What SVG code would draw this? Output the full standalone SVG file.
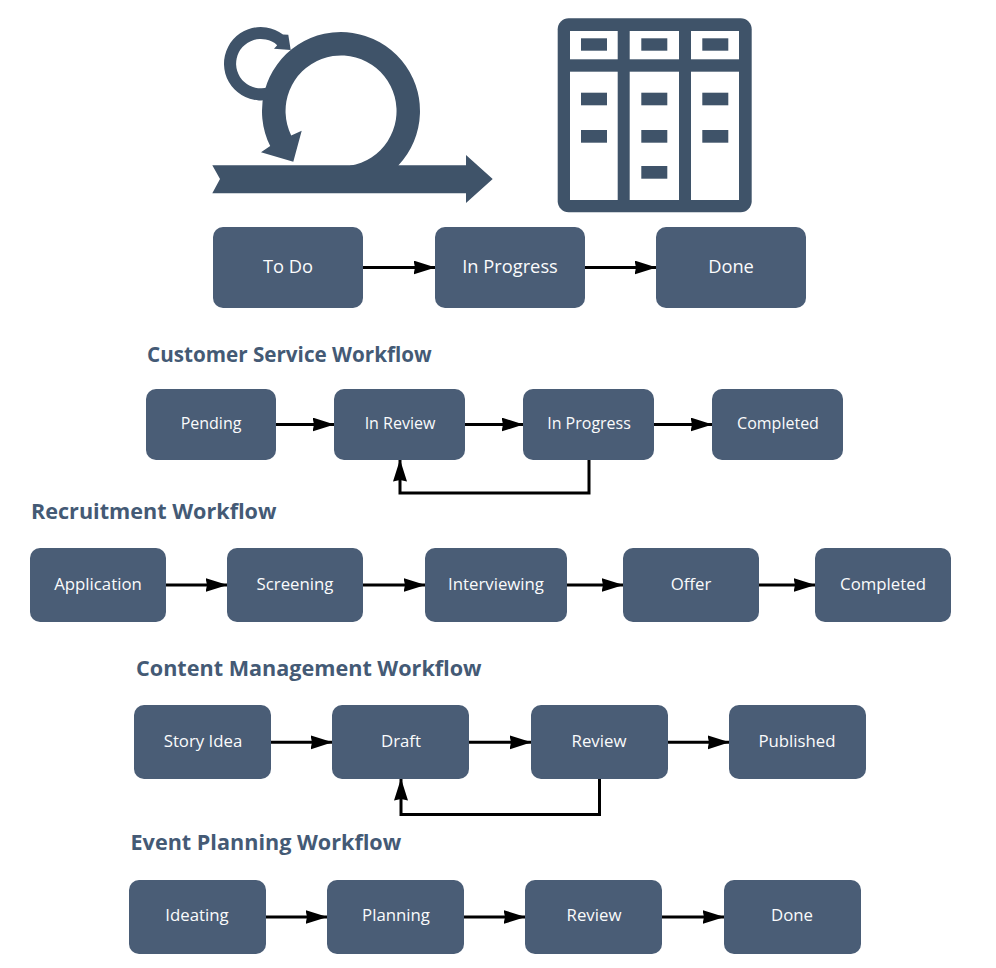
<svg xmlns="http://www.w3.org/2000/svg" width="996" height="968" viewBox="0 0 996 968">
<defs>
<style>
.n{fill:#4a5d76}
.i{fill:#3f5369}
.t{font-family:"Open Sans",sans-serif;fill:#fafbfc;text-anchor:middle;dominant-baseline:central}
.a{font-size:18.300px}.b{font-size:16px}.c{font-size:16.800px}
.h{font-family:"Open Sans",sans-serif;font-weight:700;font-size:21.600px;fill:#445a75}
.e{fill:none;stroke:#000;stroke-width:3;marker-end:url(#m)}
</style>
<marker id="m" markerUnits="userSpaceOnUse" markerWidth="24" markerHeight="16" refX="21.500" refY="7" orient="auto"><path d="M0 0L22 7L0 14L1.500 7Z" fill="#000"/></marker>
</defs>
<rect width="996" height="968" fill="#fff"/>
<g id="scrum-icon" class="i">
<path d="M212.300 165.300H466V155L492.700 179L466 203V193.300H212.300L220 179Z"/>
<path d="M398.300 165.400A79 79 0 1 0 270.200 146.100L261 152.300L293.300 161.700L301.700 130.700L291.200 135.400A55.500 55.500 0 1 1 350 165.770V170H398.300Z"/>
<path d="M268 99.700A36.700 36.700 0 1 1 283 34.600L288.300 34.800L290.700 50L274 48.700L277.200 45.200A24.700 24.700 0 1 0 268 87.300Z"/>
</g>
<g id="kanban-icon">
<rect class="i" x="557.700" y="18.300" width="194" height="194" rx="11"/>
<g fill="#fff">
<rect x="570" y="31" width="47.700" height="28.300"/><rect x="629.700" y="31" width="49.300" height="28.300"/><rect x="691" y="31" width="48" height="28.300"/>
<rect x="570" y="71.700" width="47.700" height="128.300"/><rect x="629.700" y="71.700" width="49.300" height="128.300"/><rect x="691" y="71.700" width="48" height="128.300"/>
</g>
<g class="i">
<rect x="581" y="38.300" width="26" height="12.400"/><rect x="641.300" y="38.300" width="26" height="12.400"/><rect x="702.300" y="38.300" width="26" height="12.400"/>
<rect x="581" y="92.700" width="26" height="12.600"/><rect x="641.300" y="92.700" width="26" height="12.600"/><rect x="702.300" y="92.700" width="26" height="12.600"/>
<rect x="581" y="130" width="26" height="12.700"/><rect x="641.300" y="130" width="26" height="12.700"/><rect x="702.300" y="130" width="26" height="12.700"/>
<rect x="641.300" y="166" width="26" height="12.700"/>
</g>
</g>
<g id="connectors">
<path class="e" d="M363 267.500H435"/><path class="e" d="M585 267.500H656"/>
<path class="e" d="M276 424.500H334"/><path class="e" d="M465 424.500H523"/><path class="e" d="M654 424.500H712"/>
<path class="e" d="M589 460V493H400V460"/>
<path class="e" d="M166 585H227"/><path class="e" d="M363 585H425"/><path class="e" d="M567 585H623"/><path class="e" d="M759 585H815"/>
<path class="e" d="M271 742.300H332"/><path class="e" d="M469 742.300H531"/><path class="e" d="M668 742.300H729"/>
<path class="e" d="M599.500 779V814.500H401V779"/>
<path class="e" d="M266 917H327"/><path class="e" d="M464 917H525"/><path class="e" d="M662 917H724"/>
</g>
<g id="n-todo"><rect class="n" x="213" y="227" width="150" height="81" rx="10"/><text class="t a" x="288" y="265">To Do</text></g>
<g id="n-inprogress"><rect class="n" x="435" y="227" width="150" height="81" rx="10"/><text class="t a" x="510" y="265">In Progress</text></g>
<g id="n-done"><rect class="n" x="656" y="227" width="150" height="81" rx="10"/><text class="t a" x="731" y="265">Done</text></g>
<text class="h" style="font-size:20.650px" x="147" y="361.500">Customer Service Workflow</text>
<g id="cs-pending"><rect class="n" x="146" y="389" width="130" height="71" rx="10"/><text class="t b" x="211" y="422.500">Pending</text></g>
<g id="cs-review"><rect class="n" x="334" y="389" width="131" height="71" rx="10"/><text class="t b" x="400" y="422.500">In Review</text></g>
<g id="cs-progress"><rect class="n" x="523" y="389" width="131" height="71" rx="10"/><text class="t b" x="589" y="422.500">In Progress</text></g>
<g id="cs-completed"><rect class="n" x="712" y="389" width="131" height="71" rx="10"/><text class="t b" x="778" y="422.500">Completed</text></g>
<text class="h" x="31" y="519">Recruitment Workflow</text>
<g id="r-application"><rect class="n" x="30" y="548" width="136" height="74" rx="10"/><text class="t c" x="98" y="583">Application</text></g>
<g id="r-screening"><rect class="n" x="227" y="548" width="136" height="74" rx="10"/><text class="t c" x="295" y="583">Screening</text></g>
<g id="r-interviewing"><rect class="n" x="425" y="548" width="142" height="74" rx="10"/><text class="t c" x="496" y="583">Interviewing</text></g>
<g id="r-offer"><rect class="n" x="623" y="548" width="136" height="74" rx="10"/><text class="t c" x="691" y="583">Offer</text></g>
<g id="r-completed"><rect class="n" x="815" y="548" width="136" height="74" rx="10"/><text class="t c" x="883" y="583">Completed</text></g>
<text class="h" x="136" y="675.500">Content Management Workflow</text>
<g id="c-idea"><rect class="n" x="134" y="705" width="137" height="74" rx="10"/><text class="t c" x="203" y="740">Story Idea</text></g>
<g id="c-draft"><rect class="n" x="332" y="705" width="137" height="74" rx="10"/><text class="t c" x="401" y="740">Draft</text></g>
<g id="c-review"><rect class="n" x="531" y="705" width="137" height="74" rx="10"/><text class="t c" x="599" y="740">Review</text></g>
<g id="c-published"><rect class="n" x="729" y="705" width="137" height="74" rx="10"/><text class="t c" x="797" y="740">Published</text></g>
<text class="h" x="130.500" y="850">Event Planning Workflow</text>
<g id="e-ideating"><rect class="n" x="129" y="880" width="137" height="74" rx="10"/><text class="t c" x="197" y="914">Ideating</text></g>
<g id="e-planning"><rect class="n" x="327" y="880" width="137" height="74" rx="10"/><text class="t c" x="396" y="914">Planning</text></g>
<g id="e-review"><rect class="n" x="525" y="880" width="137" height="74" rx="10"/><text class="t c" x="594" y="914">Review</text></g>
<g id="e-done"><rect class="n" x="724" y="880" width="137" height="74" rx="10"/><text class="t c" x="792" y="914">Done</text></g>
</svg>
